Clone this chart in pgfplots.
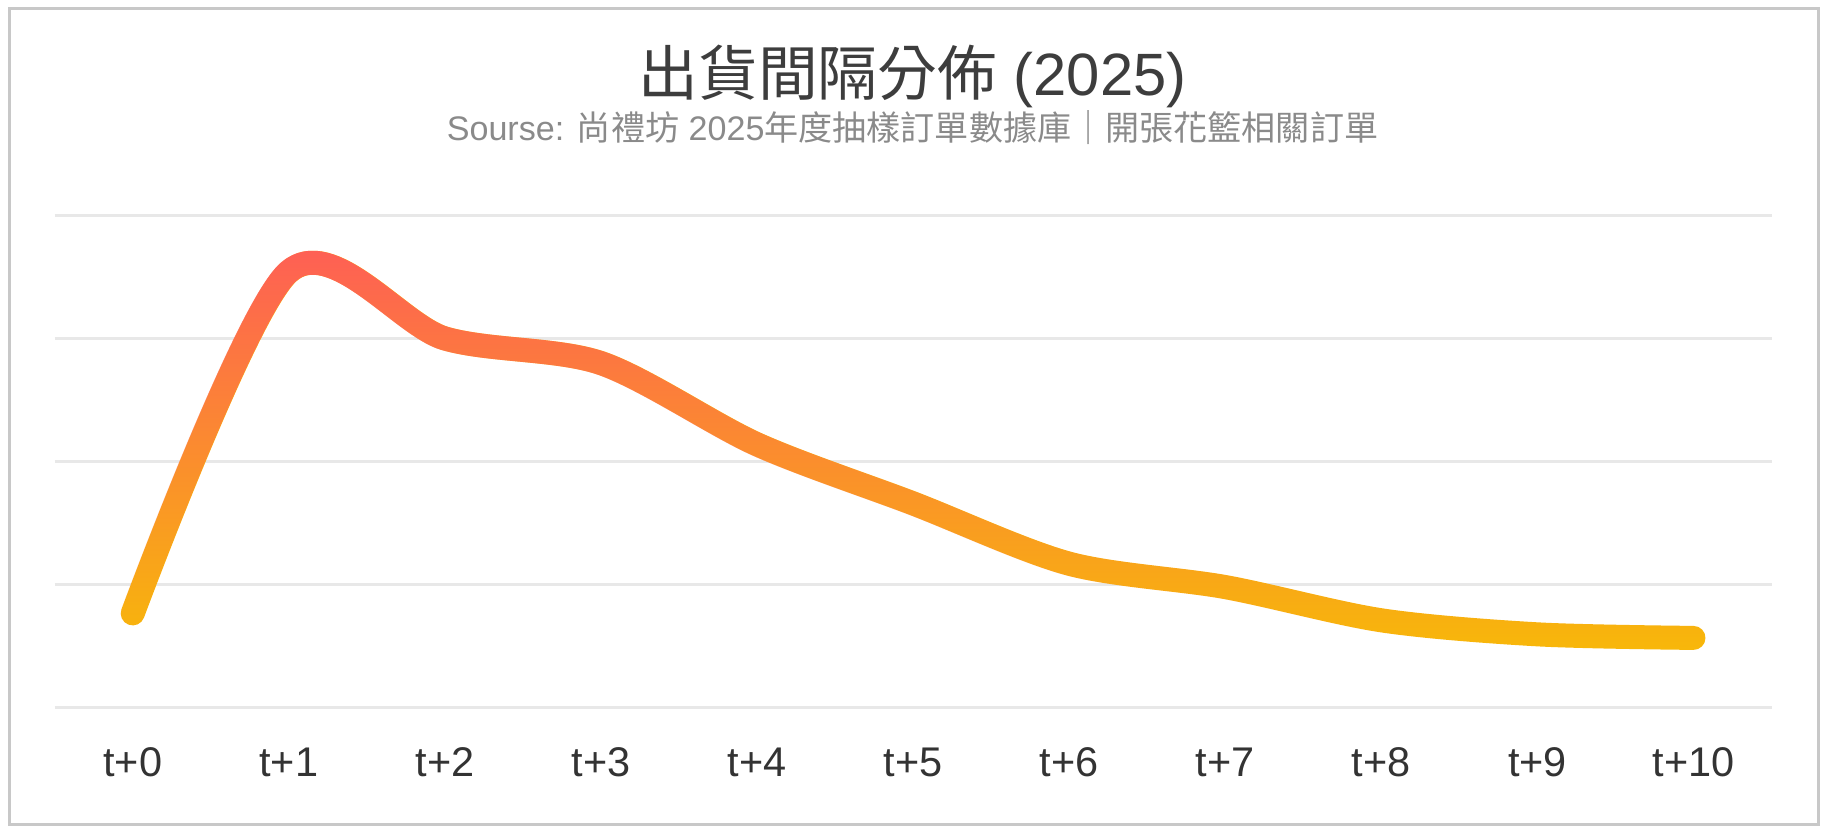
\documentclass[border=0pt]{standalone}
\usepackage{pgfplots}
\pgfplotsset{compat=1.18}
\usepackage{pgfplotstable}
\usepackage{fontspec}
\setmainfont{Liberation Sans}
\newfontfamily\cjk{Noto Sans CJK TC}
\usetikzlibrary{fadings}

\definecolor{framegray}{HTML}{C8C8C8}
\definecolor{gridgray}{HTML}{E8E8E8}
\definecolor{axisgray}{HTML}{DADADA}
\definecolor{titlegray}{HTML}{3D3D3D}
\definecolor{subgray}{HTML}{8A8A8A}
\definecolor{ticktext}{HTML}{333333}
\definecolor{linered}{HTML}{FF5A5A}
\definecolor{lineyellow}{HTML}{F8B80A}

% red at the top of the curve, fading out towards the bottom
\tikzfading[name=redtop, top color=transparent!0, bottom color=transparent!100]

% share of orders by shipping interval (t+0 ... t+10)
\pgfplotstableread{
x  y
0  7.66
1  35.4
2  30.0
3  28.0
4  21.4
5  16.6
6  11.7
7  9.8
8  7.1
9  5.96
10 5.67
}\shipdata

\begin{document}
\begin{tikzpicture}
  % page extent and outer frame
  \path (0,0) rectangle (182.5mm,83.1mm);
  \draw[framegray, line width=0.3mm] (0.9mm,0.7mm) rectangle (181.8mm,82.2mm);

  \node[font=\fontsize{17pt}{20pt}\selectfont, text=titlegray]
    at (91.25mm,75.5mm) {{\cjk 出貨間隔分佈} (2025)};
  \node[font=\fontsize{9.7pt}{12pt}\selectfont, text=subgray]
    at (91.25mm,70.3mm) {Sourse: {\cjk 尚禮坊} 2025{\cjk 年度抽樣訂單數據庫｜開張花籃相關訂單}};

  \begin{axis}[
    at={(5.47mm,12.33mm)}, anchor=south west,
    scale only axis, width=171.68mm, height=49.24mm,
    xmin=-0.5, xmax=10.5, ymin=0, ymax=40,
    axis line style={draw=none},
    xtick={0,...,10},
    xticklabels={t+0,t+1,t+2,t+3,t+4,t+5,t+6,t+7,t+8,t+9,t+10},
    ytick={10,20,30,40}, yticklabels={},
    extra y ticks={0}, extra y tick labels={},
    extra y tick style={grid style={axisgray, line width=0.3mm}},
    major tick length=0pt,
    tick style={draw=none},
    ymajorgrids,
    major grid style={gridgray, line width=0.3mm},
    x tick label style={font=\fontsize{11.8pt}{14pt}\selectfont, text=ticktext,
      anchor=center, yshift=-5.45mm},
    clip=false,
  ]
    \addplot[smooth, tension=0.5, line width=2.4mm, color=lineyellow, line cap=round, line join=round]
      table[x=x, y=y] {\shipdata};
    \addplot[smooth, tension=0.5, line width=2.4mm, color=linered, line cap=round, line join=round,
      path fading=redtop]
      table[x=x, y=y] {\shipdata};
  \end{axis}
\end{tikzpicture}
\end{document}
